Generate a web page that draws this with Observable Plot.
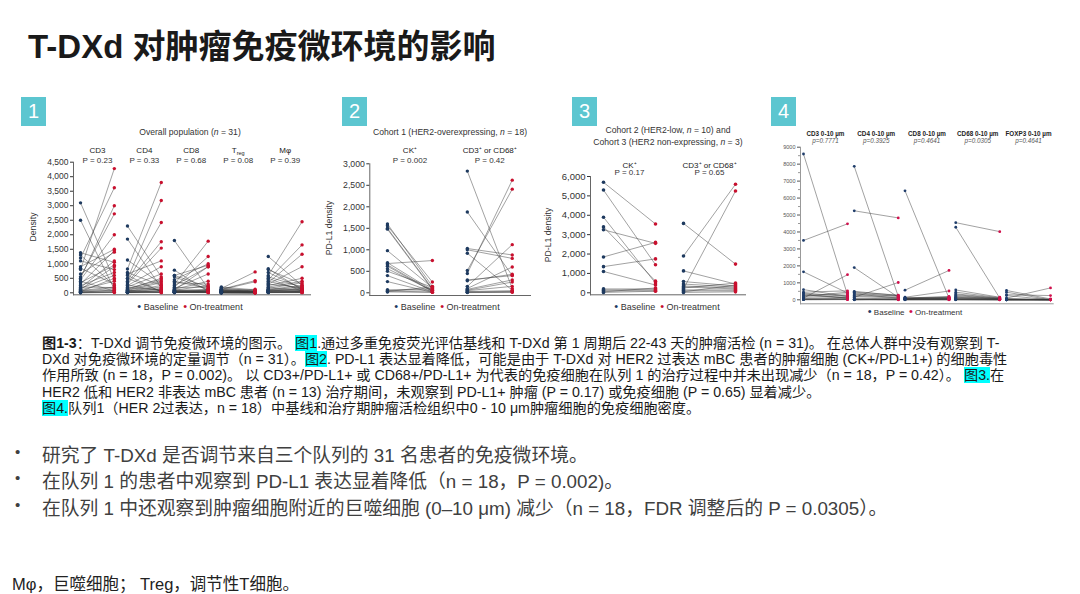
<!DOCTYPE html>
<html><head><meta charset="utf-8">
<script src="https://cdn.jsdelivr.net/npm/d3@7"></script>
<script src="https://cdn.jsdelivr.net/npm/@observablehq/plot@0.6"></script>
<style>
body{margin:0;width:1080px;height:594px;background:#fff;position:relative;overflow:hidden;font-family:"Liberation Sans",Arial,"Noto Sans CJK SC",sans-serif;color:#222;}
.abs{position:absolute;white-space:nowrap;}
.c{transform:translate(-50%,-50%);}
.num{position:absolute;width:25px;height:29px;background:#5cc6d0;color:#fff;font-size:20px;display:flex;align-items:center;justify-content:center;font-family:"Liberation Sans",Arial,sans-serif;}
.ptitle{font-size:8.6px;color:#333;}
.leg{font-size:9px;color:#333;}
.leg b{font-weight:normal;font-size:11px;}
.ylab{font-size:8.7px;color:#333;transform:translate(-50%,-50%) rotate(-90deg);}
.hl{background:#00ffff;}
.cap{font-size:14.2px;line-height:16.2px;color:#1a1a1a;}
.bul{font-size:18.8px;color:#404040;}
.dot{font-size:15px;color:#404040;}
</style></head>
<body>
<div class="abs" style="left:28px;top:20px;font-size:33px;font-weight:bold;color:#1a1a1a;">T-DXd 对肿瘤免疫微环境的影响</div>

<div class="num" style="left:21px;top:97px;">1</div>
<div class="num" style="left:342px;top:97px;">2</div>
<div class="num" style="left:572px;top:97px;">3</div>
<div class="num" style="left:771px;top:97px;">4</div>

<div class="abs c ptitle" style="left:190px;top:132px;">Overall population (<i>n</i> = 31)</div>
<div class="abs c ptitle" style="left:450px;top:132px;">Cohort 1 (HER2-overexpressing, <i>n</i> = 18)</div>
<div class="abs c ptitle" style="left:668px;top:130px;">Cohort 2 (HER2-low, <i>n</i> = 10) and</div>
<div class="abs c ptitle" style="left:668px;top:142px;">Cohort 3 (HER2 non-expressing, <i>n</i> = 3)</div>

<div class="abs ylab" style="left:33px;top:227px;">Density</div>
<div class="abs ylab" style="left:329px;top:228px;">PD-L1 density</div>
<div class="abs ylab" style="left:548px;top:235px;">PD-L1 density</div>

<div class="abs c leg" style="left:190px;top:306px;"><b style="color:#1e3a5f">•</b> Baseline &nbsp;<b style="color:#c8102e">•</b> On-treatment</div>
<div class="abs c leg" style="left:447px;top:306px;"><b style="color:#1e3a5f">•</b> Baseline &nbsp;<b style="color:#c8102e">•</b> On-treatment</div>
<div class="abs c leg" style="left:667px;top:306px;"><b style="color:#1e3a5f">•</b> Baseline &nbsp;<b style="color:#c8102e">•</b> On-treatment</div>
<div class="abs c leg" style="left:915px;top:311px;font-size:8px;"><b style="color:#1f3d6b">•</b> Baseline &nbsp;<b style="color:#d0104c">•</b> On-treatment</div>

<div id="p1" class="abs" style="left:20px;top:140px;"></div>
<div id="p2" class="abs" style="left:320px;top:140px;"></div>
<div id="p3" class="abs" style="left:540px;top:145px;"></div>
<div id="p4" class="abs" style="left:770px;top:120px;"></div>

<div class="abs cap" style="left:42px;top:335px;">
<div><b>图1-3</b>：T-DXd 调节免疫微环境的图示。 <span class="hl">图1</span>.通过多重免疫荧光评估基线和 T-DXd 第 1 周期后 22-43 天的肿瘤活检 (n = 31)。 在总体人群中没有观察到 T-</div>
<div>DXd 对免疫微环境的定量调节（n = 31）。<span class="hl">图2</span>. PD-L1 表达显着降低，可能是由于 T-DXd 对 HER2 过表达 mBC 患者的肿瘤细胞 (CK+/PD-L1+) 的细胞毒性</div>
<div>作用所致 (n = 18，P = 0.002)。 以 CD3+/PD-L1+ 或 CD68+/PD-L1+ 为代表的免疫细胞在队列 1 的治疗过程中并未出现减少（n = 18，P = 0.42）。 <span class="hl">图3.</span>在</div>
<div>HER2 低和 HER2 非表达 mBC 患者 (n = 13) 治疗期间，未观察到 PD-L1+ 肿瘤 (P = 0.17) 或免疫细胞 (P = 0.65) 显着减少。</div>
<div><span class="hl">图4.</span>队列1（HER 2过表达，n = 18）中基线和治疗期肿瘤活检组织中0 - 10 μm肿瘤细胞的免疫细胞密度。</div>
</div>

<div class="abs dot" style="left:15px;top:443px;">•</div>
<div class="abs bul" style="left:42px;top:440px;">研究了 T-DXd 是否调节来自三个队列的 31 名患者的免疫微环境。</div>
<div class="abs dot" style="left:15px;top:469px;">•</div>
<div class="abs bul" style="left:42px;top:466px;">在队列 1 的患者中观察到 PD-L1 表达显着降低（n = 18，P = 0.002)。</div>
<div class="abs dot" style="left:15px;top:496px;">•</div>
<div class="abs bul" style="left:42px;top:493px;">在队列 1 中还观察到肿瘤细胞附近的巨噬细胞 (0–10 μm) 减少（n = 18，FDR 调整后的 P = 0.0305）。</div>

<div class="abs" style="left:12px;top:571px;font-size:16.5px;color:#222;">Mφ，巨噬细胞； Treg，调节性T细胞。</div>

<script>
// ---------- Panel 1: overall population ----------
const p1Groups = ["CD3", "CD4", "CD8", "Treg", "Mφ"];
const p1P = ["P = 0.23", "P = 0.33", "P = 0.68", "P = 0.08", "P = 0.39"];
const p1YTicks = [0, 500, 1000, 1500, 2000, 2500, 3000, 3500, 4000, 4500];
const p1Baseline = [
  [3100,2500,1380,1300,1200,1100,900,850,800,650,550,500,450,400,350,300,250,200,180,150,120,100,80,60,50,40,30,20,10,5,0],
  [2300,1850,1130,820,650,480,400,350,300,250,200,180,150,120,100,80,60,50,40,30,25,20,15,10,8,5,500,600,700,270,90],
  [1800,780,600,550,450,350,300,250,200,180,150,120,100,90,80,70,60,50,40,30,25,20,15,10,8,5,600,400,100,50,20],
  [200,180,150,130,120,110,100,90,80,70,60,50,40,35,30,25,20,15,10,8,5,3,2,1,0,100,60,40,20,10,5],
  [1250,830,800,700,600,550,450,350,300,250,200,180,150,120,100,90,80,70,60,50,40,30,25,20,15,10,5,400,500,300,100]
];
const p1OnTreatment = [
  [450,120,1050,250,3620,800,1500,300,4280,1400,2720,3000,2000,60,950,1450,700,180,1100,600,900,400,200,150,80,500,30,100,40,20,10],
  [550,180,300,3800,1100,3180,2420,1760,1540,900,650,100,450,500,400,350,250,200,150,120,80,60,40,30,20,10,50,30,250,70,5],
  [150,50,950,100,1000,300,1780,900,1250,200,650,400,80,250,60,120,40,30,20,100,10,50,15,5,70,30,200,150,900,60,20],
  [100,50,720,30,420,380,120,20,60,40,10,80,30,20,50,10,5,15,0,5,10,0,5,2,0,60,30,15,30,5,3],
  [250,100,300,150,2450,200,1650,1330,900,500,400,80,350,250,200,150,120,100,60,80,40,30,50,20,10,15,5,120,60,180,30]
];

// ---------- Panel 2: cohort 1 ----------
const p2Groups = ["CK⁺", "CD3⁺ or CD68⁺"];
const p2P = ["P = 0.002", "P = 0.42"];
const p2YTicks = [0, 500, 1000, 1500, 2000, 2500, 3000];
const p2Baseline = [
  [1600,1560,1500,1480,980,700,680,650,620,560,500,400,260,70,50,40,30,20],
  [2830,1880,1030,1000,920,520,450,300,280,150,100,80,60,50,30,20,10,5]
];
const p2OnTreatment = [
  [150,250,100,80,120,60,750,40,30,50,130,20,10,60,100,20,140,10],
  [100,400,880,800,60,2410,2620,400,430,1120,600,300,250,150,50,30,20,10]
];

// ---------- Panel 3: cohorts 2 and 3 ----------
const p3Groups = ["CK⁺", "CD3⁺ or CD68⁺"];
const p3P = ["P = 0.17", "P = 0.65"];
const p3YTicks = [0, 1000, 2000, 3000, 4000, 5000, 6000];
const p3Baseline = [
  [5700,5300,3900,3400,3250,1850,1350,1100,200,150,100,50,20],
  [3580,1900,1130,580,450,350,300,250,200,150,100,50,20]
];
const p3OnTreatment = [
  [3550,1450,500,600,2550,2600,1750,400,200,150,100,250,80],
  [1480,5600,450,350,300,250,200,500,5250,150,100,400,50]
];

// ---------- Panel 4: 0-10 µm densities ----------
const p4Groups = ["CD3 0-10 µm", "CD4 0-10 µm", "CD8 0-10 µm", "CD68 0-10 µm", "FOXP3 0-10 µm"];
const p4P = ["p=0.7771", "p=0.3925", "p=0.4641", "p=0.0305", "p=0.4641"];
const p4YTicks = [0, 1000, 2000, 3000, 4000, 5000, 6000, 7000, 8000, 9000];
const p4YMinor = [500, 1500, 2500, 3500, 4500, 5500, 6500, 7500, 8500];
const p4Baseline = [
  [8600,3500,1650,600,450,400,350,300,250,200,150,100,80,50,30,20,10,5],
  [7870,5250,1900,500,450,400,350,300,250,200,150,100,50,30,20,10,5,0],
  [6430,570,150,120,100,80,60,50,40,30,20,15,10,5,0,100,60,30],
  [4550,4280,580,450,350,300,250,200,150,100,50,30,20,10,5,0,120,80],
  [550,450,300,250,100,50,20,0,0,10,30,5,0,60,15,0,40,0]
];
const p4OnTreatment = [
  [300,4480,400,200,530,200,100,100,350,450,250,1480,150,50,30,100,20,10],
  [200,4830,150,250,280,200,100,250,150,100,1020,50,30,20,10,5,0,50],
  [100,1730,520,150,100,80,120,60,50,40,30,20,10,5,0,200,150,80],
  [4020,100,150,120,100,80,60,50,40,30,20,10,5,0,5,0,90,40],
  [50,0,250,0,700,20,0,0,10,0,5,0,0,20,5,30,0,0]
];

function pairedPlot(c) {
  const rows = [];
  c.groups.forEach((g, i) => c.base[i].forEach((b, j) => rows.push({i, b, o: c.on[i][j]})));
  const hdr = c.groups.map((g, i) => ({i, g, p: c.pvals[i]}));
  const off = c.off;
  const marks = [
    Plot.frame({anchor: "left", stroke: c.axisColor}),
    Plot.frame({anchor: "bottom", stroke: c.axisColor}),
    Plot.axisY(c.yticks, {tickFormat: c.fmt, tickSize: 3, tickPadding: 2, fontSize: c.tickFont, color: c.tickColor, label: null})
  ];
  if (c.minor) marks.push(Plot.axisY(c.minor, {tickFormat: () => "", tickSize: 2, color: "#999", label: null}));
  marks.push(
    Plot.link(rows, {x1: "i", y1: "b", x2: d => d.i + off, y2: "o", stroke: "#3a3a3a", strokeOpacity: 0.6, strokeWidth: 0.8}),
    Plot.dot(rows, {x: "i", y: "b", r: c.r, fill: c.baseColor}),
    Plot.dot(rows, {x: d => d.i + off, y: "o", r: c.r, fill: c.onColor}),
    Plot.text(hdr, {x: d => d.i + off / 2, frameAnchor: "top", dy: c.hdrDy[0], text: "g", fontSize: c.hdrFont, fill: "#222", fontWeight: c.hdrBold ? "bold" : "normal"}),
    Plot.text(hdr, {x: d => d.i + off / 2, frameAnchor: "top", dy: c.hdrDy[1], text: "p", fontSize: c.hdrFont, fill: c.pColor, fontStyle: c.pItalic ? "italic" : "normal"})
  );
  const svg = Plot.plot({
    width: c.width, height: c.height,
    marginTop: c.mt, marginBottom: c.mb, marginLeft: c.ml, marginRight: c.mr,
    style: {fontFamily: "Liberation Sans, Arial, sans-serif", background: "transparent", overflow: "visible"},
    x: {domain: c.xdomain, axis: null},
    y: {domain: c.ydomain, axis: null, insetBottom: c.ib},
    marks
  });
  d3.select(svg).selectAll("text").filter(function() { return this.textContent === "Treg"; })
    .each(function() { this.innerHTML = 'T<tspan font-size="5.5" dy="2">reg</tspan>'; });
  return svg;
}

document.getElementById("p1").append(pairedPlot({
  groups: p1Groups, pvals: p1P, base: p1Baseline, on: p1OnTreatment, yticks: p1YTicks,
  fmt: d3.format(","), tickFont: 8.5, tickColor: "#333", axisColor: "#666",
  width: 295, height: 160, mt: 21.7, mb: 5.7, ml: 53, mr: 5, ib: 2,
  xdomain: [-0.15, 4.9], ydomain: [0, 4500], off: 0.72, r: 1.7,
  baseColor: "#1e3a5f", onColor: "#c8102e", hdrDy: [-14.5, -4.5], hdrFont: 8, pColor: "#333"
}));

document.getElementById("p2").append(pairedPlot({
  groups: p2Groups, pvals: p2P, base: p2Baseline, on: p2OnTreatment, yticks: p2YTicks,
  fmt: d3.format(","), tickFont: 8.7, tickColor: "#333", axisColor: "#666",
  width: 220, height: 160, mt: 23.3, mb: 5, ml: 49.3, mr: 10, ib: 2.7,
  xdomain: [-0.221, 1.791], ydomain: [0, 3000], off: 0.5625, r: 1.7,
  baseColor: "#1e3a5f", onColor: "#c8102e", hdrDy: [-16, -6], hdrFont: 8, pColor: "#333"
}));

document.getElementById("p3").append(pairedPlot({
  groups: p3Groups, pvals: p3P, base: p3Baseline, on: p3OnTreatment, yticks: p3YTicks,
  fmt: d3.format(","), tickFont: 9.5, tickColor: "#333", axisColor: "#666",
  width: 215, height: 155, mt: 31, mb: 5.7, ml: 50, mr: 10, ib: 2,
  xdomain: [-0.1625, 1.775], ydomain: [0, 6000], off: 0.65, r: 1.8,
  baseColor: "#1e3a5f", onColor: "#c8102e", hdrDy: [-14.3, -7], hdrFont: 8, pColor: "#333"
}));

document.getElementById("p4").append(pairedPlot({
  groups: p4Groups, pvals: p4P, base: p4Baseline, on: p4OnTreatment, yticks: p4YTicks, minor: p4YMinor,
  fmt: d3.format("d"), tickFont: 5.5, tickColor: "#555", axisColor: "#999",
  width: 295, height: 190, mt: 26.7, mb: 6.7, ml: 30, mr: 12.3, ib: 4,
  xdomain: [-0.059, 4.92], ydomain: [0, 9000], off: 0.867, r: 1.4,
  baseColor: "#1f3d6b", onColor: "#d0104c", hdrDy: [-16, -8.4], hdrFont: 6.3, hdrBold: true, pColor: "#555", pItalic: true
}));
</script>
</body></html>
